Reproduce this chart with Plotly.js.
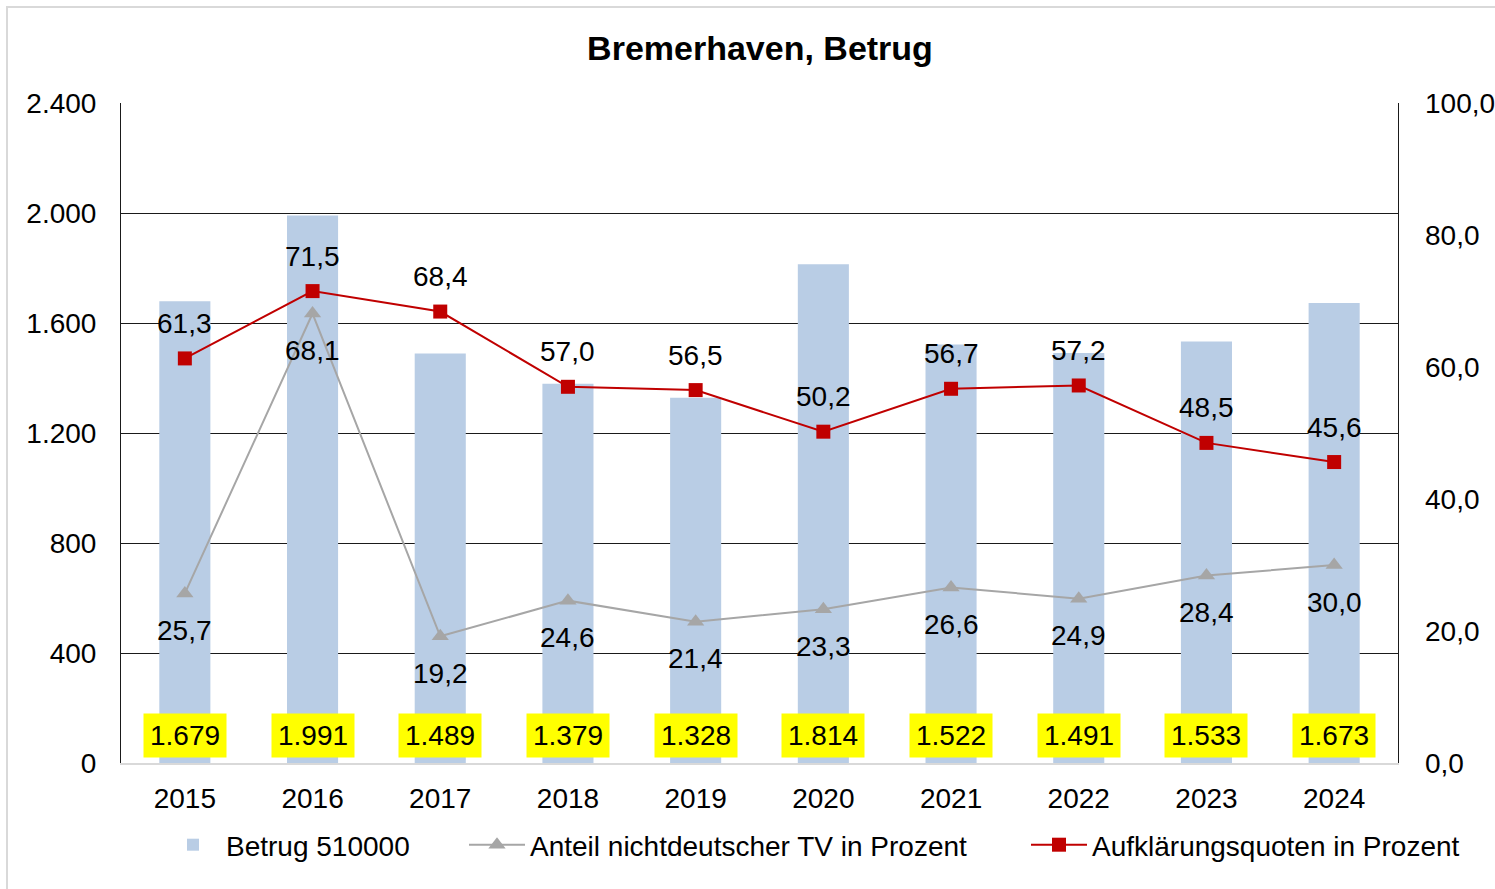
<!DOCTYPE html>
<html>
<head>
<meta charset="utf-8">
<script src="https://cdn.plot.ly/plotly-3.0.1.min.js"></script>
<style>html,body{margin:0;padding:0;background:#fff;}#chart{width:1495px;height:889px;}</style>
</head>
<body>
<div id="chart"></div>
<script>
const years = ['2015','2016','2017','2018','2019','2020','2021','2022','2023','2024'];
const betrug = [1679, 1991, 1489, 1379, 1328, 1814, 1522, 1491, 1533, 1673];
const anteilNichtdeutsch = [25.7, 68.1, 19.2, 24.6, 21.4, 23.3, 26.6, 24.9, 28.4, 30.0];
const aufklaerung = [61.3, 71.5, 68.4, 57.0, 56.5, 50.2, 56.7, 57.2, 48.5, 45.6];
const leftTicks = [0, 400, 800, 1200, 1600, 2000, 2400];
const rightTicks = [0, 20, 40, 60, 80, 100];

const FONT = '"Liberation Sans", Arial, sans-serif';
const FS = 28;
const fmtInt = v => String(v).replace(/\B(?=(\d{3})+(?!\d))/g, '.');
const fmtDec = v => v.toFixed(1).replace('.', ',');

const traces = [
  {
    type: 'bar', name: 'Betrug 510000', x: years, y: betrug,
    marker: {color: '#b9cde5'}, width: 0.4, legend: 'legend'
  },
  {
    type: 'scatter', mode: 'lines+markers', name: 'Anteil nichtdeutscher TV in Prozent',
    x: years, y: anteilNichtdeutsch, yaxis: 'y2', legend: 'legend2',
    line: {color: '#a6a6a6', width: 2},
    marker: {symbol: 'triangle-up', size: 15, color: '#a6a6a6'}
  },
  {
    type: 'scatter', mode: 'lines+markers', name: 'Aufklärungsquoten in Prozent',
    x: years, y: aufklaerung, yaxis: 'y2', legend: 'legend3',
    line: {color: '#c00000', width: 2},
    marker: {symbol: 'square', size: 14, color: '#c00000'}
  }
];

const annotations = [];
years.forEach((yr, i) => {
  annotations.push({
    x: i, xref: 'x', y: 0.041, yref: 'paper', yanchor: 'middle',
    text: fmtInt(betrug[i]), showarrow: false, bgcolor: '#ffff00', borderpad: 6,
    font: {family: FONT, size: FS, color: '#000'}
  });
  annotations.push({
    x: i, xref: 'x', y: aufklaerung[i], yref: 'y2', yshift: 35,
    text: fmtDec(aufklaerung[i]), showarrow: false,
    font: {family: FONT, size: FS, color: '#000'}
  });
  annotations.push({
    x: i, xref: 'x', y: anteilNichtdeutsch[i], yref: 'y2', yshift: -37,
    text: fmtDec(anteilNichtdeutsch[i]), showarrow: false,
    font: {family: FONT, size: FS, color: '#000'}
  });
});

const legendBase = {
  orientation: 'h', xanchor: 'left', y: (763 - 845) / 660, yanchor: 'middle',
  font: {family: FONT, size: FS, color: '#000'}, bgcolor: 'rgba(0,0,0,0)', itemwidth: 56
};

const layout = {
  width: 1495, height: 889, autosize: false,
  margin: {l: 121, r: 97, t: 103, b: 126, autoexpand: false},
  paper_bgcolor: '#fff', plot_bgcolor: '#fff',
  separators: ',.',
  font: {family: FONT, size: FS, color: '#000'},
  title: {
    text: '<b>Bremerhaven, Betrug</b>', xref: 'paper', x: (760 - 121) / 1277, xanchor: 'center',
    yref: 'container', y: 1 - 48/889, yanchor: 'middle',
    font: {family: FONT, size: 34, color: '#000'}
  },
  showlegend: true,
  legend: Object.assign({}, legendBase, {x: (160 - 121) / 1277}),
  legend2: Object.assign({}, legendBase, {x: (464 - 121) / 1277}),
  legend3: Object.assign({}, legendBase, {x: (1026 - 121) / 1277}),
  xaxis: {
    type: 'category', range: [-0.5, 9.5], showgrid: false, zeroline: false,
    showline: true, linecolor: '#d9d9d9', linewidth: 2, automargin: false,
    ticks: '', ticklabelstandoff: 9, tickangle: 0,
    tickfont: {family: FONT, size: FS, color: '#000'}
  },
  yaxis: {
    range: [0, 2400], tickvals: leftTicks, ticktext: leftTicks.map(fmtInt), automargin: false,
    showgrid: true, gridcolor: '#1a1a1a', gridwidth: 1, zeroline: false,
    showline: true, linecolor: '#1a1a1a', linewidth: 1, mirror: true,
    ticks: '', ticklabelstandoff: 18,
    tickfont: {family: FONT, size: FS, color: '#000'}
  },
  yaxis2: {
    range: [0, 100], overlaying: 'y', side: 'right', tickvals: rightTicks, automargin: false,
    ticktext: rightTicks.map(fmtDec), showgrid: false, zeroline: false, showline: false,
    ticks: '', ticklabelstandoff: 26,
    tickfont: {family: FONT, size: FS, color: '#000'}
  },
  annotations: annotations,
  shapes: [{
    type: 'rect', xref: 'paper', yref: 'paper',
    x0: (7 - 121) / 1277, x1: (1510 - 121) / 1277,
    y0: (763 - 900) / 660, y1: (763 - 7) / 660,
    line: {color: '#d9d9d9', width: 2}, fillcolor: 'rgba(0,0,0,0)', layer: 'below'
  }]
};

Plotly.newPlot('chart', traces, layout, {displayModeBar: false, staticPlot: true});
</script>
</body>
</html>
